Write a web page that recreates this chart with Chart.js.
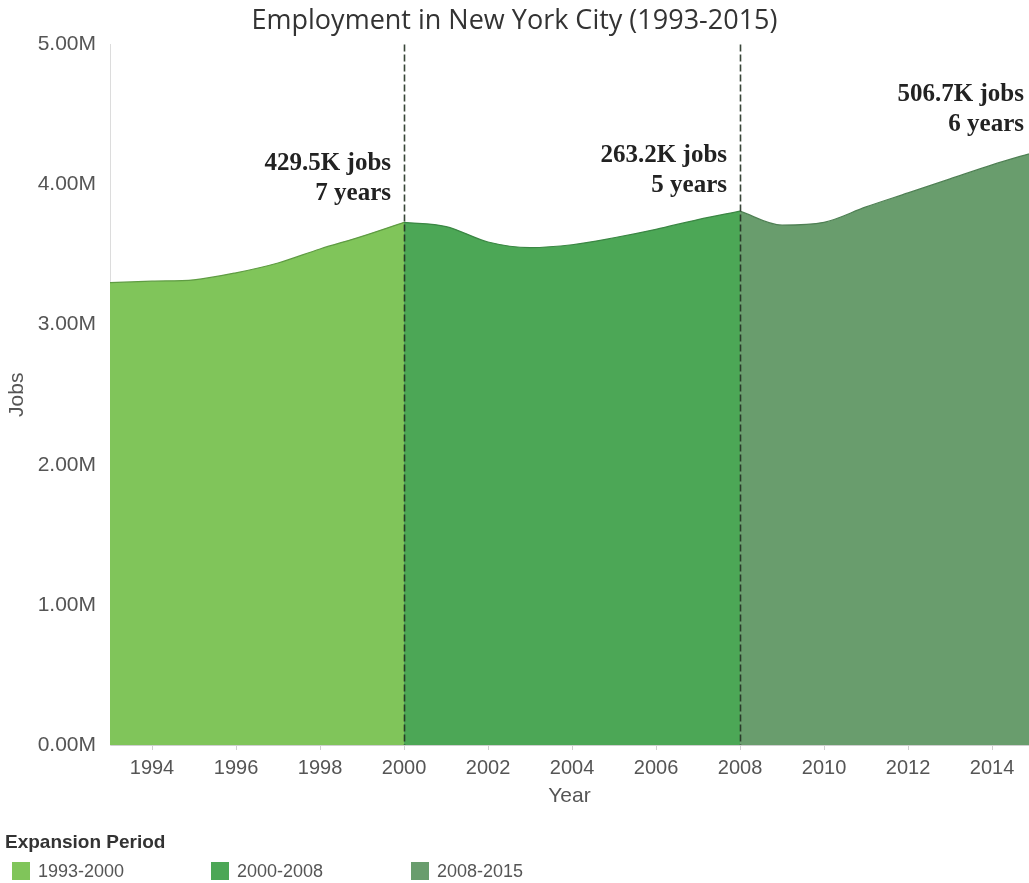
<!DOCTYPE html>
<html>
<head>
<meta charset="utf-8">
<script src="https://cdn.jsdelivr.net/npm/chart.js@4.4.1/dist/chart.umd.min.js"></script>
<style>
  html, body { margin: 0; padding: 0; background: #fff; }
  #wrap { position: relative; width: 1029px; height: 883px; overflow: hidden; }
  #c { position: absolute; left: 0; top: 0; }
  #legend { position: absolute; left: 0; top: 0; width: 1029px; height: 883px; pointer-events: none;
            font-family: 'Liberation Sans', Arial, sans-serif; }
  .lg-title { position: absolute; left: 5px; top: 831px; font-size: 19px; font-weight: bold; color: #333; }
  .lg-item { position: absolute; top: 861px; height: 20px; display: flex; align-items: center; }
  .lg-box { width: 18px; height: 18px; margin-right: 8px; }
  .lg-text { font-size: 18px; color: #555; }
</style>
</head>
<body>
<div id="wrap">
  <canvas id="c" width="1029" height="883"></canvas>
  <div id="legend"></div>
</div>
<script>
// ---------- data ----------
const years = [1993,1994,1995,1996,1997,1998,1999,2000,2001,2002,2003,2004,2005,2006,2007,2008,2009,2010,2011,2012,2013,2014,2015];
const jobsMillions = [3.30,3.31,3.32,3.37,3.44,3.54,3.63,3.73,3.70,3.59,3.55,3.57,3.62,3.68,3.75,3.81,3.71,3.73,3.84,3.94,4.04,4.14,4.23];
const periodLabels = ['1993-2000','2000-2008','2008-2015'];
const periodStart = [1993, 2000, 2008];
const periodEnd = [2000, 2008, 2015];
const periodColors = ['#80c55a','#4ca756','#699d6d'];
const periodEdge = ['#5f9c43','#3b8744','#4f8054'];
const xTickYears = [1994,1996,1998,2000,2002,2004,2006,2008,2010,2012,2014];
const yTickValues = [0,1,2,3,4,5];
const dividerYears = [2000, 2008];
const annoLine1 = ['429.5K jobs','263.2K jobs','506.7K jobs'];
const annoLine2 = ['7 years','5 years','6 years'];

// ---------- build datasets ----------
const datasets = periodLabels.map((lab, i) => {
  const pts = [];
  years.forEach((y, k) => {
    if (y >= periodStart[i] && y <= periodEnd[i]) pts.push({x: y, y: jobsMillions[k]});
  });
  return {
    label: lab,
    data: pts,
    fill: 'origin',
    backgroundColor: periodColors[i],
    borderColor: periodEdge[i],
    borderWidth: 1.2,
    pointRadius: 0,
    cubicInterpolationMode: 'monotone'
  };
});

// ---------- plugin: dashed dividers + annotations ----------
const overlay = {
  id: 'overlay',
  afterDatasetsDraw(chart) {
    const {ctx, chartArea, scales: {x, y}} = chart;
    ctx.save();
    ctx.strokeStyle = 'rgba(35,50,35,0.9)';
    ctx.lineWidth = 1.6;
    ctx.setLineDash([7, 3]);
    dividerYears.forEach(yr => {
      const px = Math.round(x.getPixelForValue(yr)) + 0.5;
      ctx.beginPath();
      ctx.moveTo(px, chartArea.top);
      ctx.lineTo(px, chartArea.bottom);
      ctx.stroke();
    });
    ctx.setLineDash([]);
    ctx.fillStyle = '#222';
    ctx.font = "bold 25px 'Liberation Serif', 'Times New Roman', serif";
    ctx.textAlign = 'right';
    ctx.textBaseline = 'middle';
    const rights = [x.getPixelForValue(dividerYears[0]) - 13, x.getPixelForValue(dividerYears[1]) - 13, chartArea.right - 5];
    const tops = [y.getPixelForValue(4.15), y.getPixelForValue(4.21), y.getPixelForValue(4.64)];
    for (let i = 0; i < 3; i++) {
      ctx.fillText(annoLine1[i], rights[i], tops[i]);
      ctx.fillText(annoLine2[i], rights[i], tops[i] + 30);
    }
    ctx.restore();
  }
};

Chart.defaults.font.family = "'Liberation Sans', Arial, sans-serif";
Chart.defaults.color = '#555';

new Chart(document.getElementById('c'), {
  type: 'line',
  data: { datasets },
  options: {
    responsive: false,
    animation: false,
    devicePixelRatio: 1,
    layout: { padding: { left: 0, right: 0, top: 0, bottom: 68 } },
    plugins: {
      legend: { display: false },
      tooltip: { enabled: false },
      title: {
        display: true,
        text: 'Employment in New York City (1993-2015)',
        color: '#333',
        font: { family: "'Open Sans', 'Noto Sans', sans-serif", size: 27, weight: 'normal' },
        padding: { top: 5, bottom: 7 }
      }
    },
    scales: {
      x: {
        type: 'linear',
        min: 1993,
        max: 2014.88,
        afterFit(s) { s.height = 70; },
        afterBuildTicks(s) { s.ticks = xTickYears.map(v => ({value: v})); },
        ticks: {
          autoSkip: false, maxRotation: 0, padding: 6,
          font: { size: 20 }, color: '#555',
          callback: v => String(v)
        },
        grid: { display: true, drawOnChartArea: false, drawTicks: true, tickLength: 5, color: '#cfcfcf' },
        border: { display: true, color: '#cfcfcf' },
        title: { display: true, text: 'Year', color: '#555', font: { size: 21 }, padding: { top: 0, bottom: 6 } }
      },
      y: {
        min: 0,
        max: 5,
        afterFit(s) { s.width = 110; },
        afterBuildTicks(s) { s.ticks = yTickValues.map(v => ({value: v})); },
        ticks: { padding: 14, font: { size: 21 }, color: '#555', callback: v => v.toFixed(2) + 'M' },
        grid: { display: false, drawTicks: false },
        border: { display: true, color: '#dcdcdc' },
        title: { display: true, text: 'Jobs', color: '#555', font: { size: 21 }, padding: { top: 5, bottom: 0 } }
      }
    }
  },
  plugins: [overlay]
});

// ---------- HTML legend ----------
const lg = document.getElementById('legend');
const t = document.createElement('div');
t.className = 'lg-title';
t.textContent = 'Expansion Period';
lg.appendChild(t);
const legendLeft = [12, 211, 411];
periodLabels.forEach((lab, i) => {
  const it = document.createElement('div');
  it.className = 'lg-item';
  it.style.left = legendLeft[i] + 'px';
  const b = document.createElement('div');
  b.className = 'lg-box';
  b.style.background = periodColors[i];
  const tx = document.createElement('span');
  tx.className = 'lg-text';
  tx.textContent = lab;
  it.appendChild(b); it.appendChild(tx);
  lg.appendChild(it);
});
</script>
</body>
</html>
